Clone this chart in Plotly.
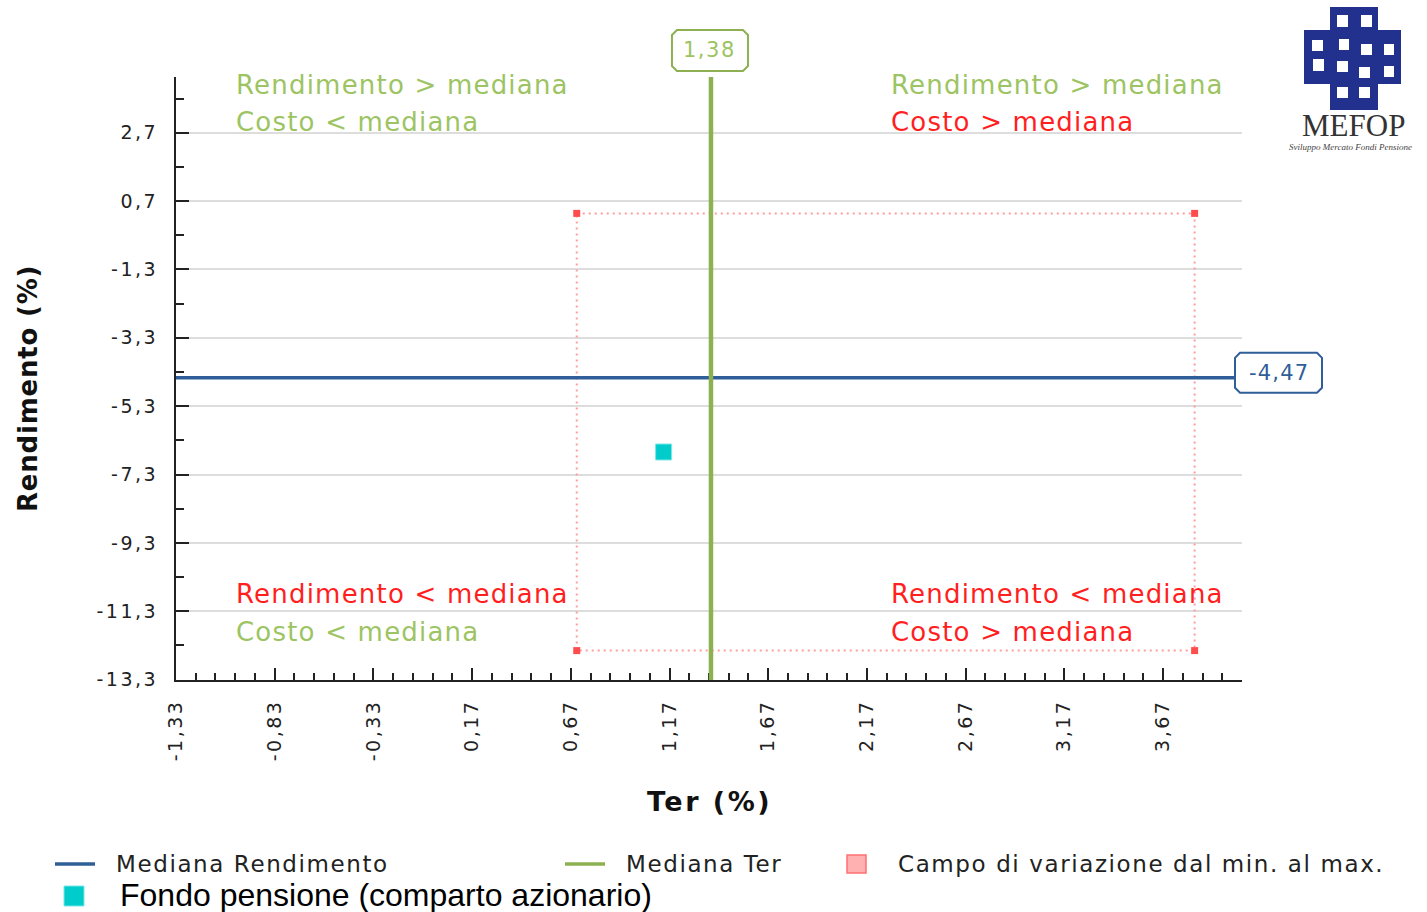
import plotly.graph_objects as go

# ---------------- data ----------------
ter_ticks = [-1.33, -0.83, -0.33, 0.17, 0.67, 1.17, 1.67, 2.17, 2.67, 3.17, 3.67]
rend_ticks = [2.7, 0.7, -1.3, -3.3, -5.3, -7.3, -9.3, -11.3, -13.3]
ter_median = 1.38
rend_median = -4.47
ter_range = [0.70, 3.83]        # min, max Ter
rend_range = [-12.45, 0.34]     # min, max Rendimento
fund_ter = [1.14]
fund_rend = [-6.64]
fund_name = "Fondo pensione (comparto azionario)"
legend_labels = ["Mediana Rendimento", "Mediana Ter", "Campo di variazione dal min. al max.", fund_name]
quadrant_labels = [
    ["Rendimento &gt; mediana", "Costo &lt; mediana"],   # top-left
    ["Rendimento &gt; mediana", "Costo &gt; mediana"],   # top-right
    ["Rendimento &lt; mediana", "Costo &lt; mediana"],   # bottom-left
    ["Rendimento &lt; mediana", "Costo &gt; mediana"],   # bottom-right
]

# ---------------- style ----------------
GREEN_TXT = "#9cc463"
GREEN_LINE = "#8db152"
RED_TXT = "#ff1f1f"
BLUE = "#2f5e98"
PINK = "#ff9c9c"
CORNER = "#ff4d4d"
CYAN = "#00cccc"
AX = "#222222"
FONT = "DejaVu Sans"

W, H = 1427, 912
L, R, T, B = 176, 1242, 77, 680


def pxx(x):
    return (x - L) / (R - L)


def pxy(y):
    return (B - y) / (B - T)


def sp(text, s):
    return f'<span style="letter-spacing:{s}px">{text}</span>'


def fmt(v, d):
    return f"{v:.{d}f}".replace(".", ",")


fig = go.Figure()

# range rectangle (dotted)
fig.add_trace(go.Scatter(
    x=[ter_range[0], ter_range[1], ter_range[1], ter_range[0], ter_range[0]],
    y=[rend_range[1], rend_range[1], rend_range[0], rend_range[0], rend_range[1]],
    mode="lines", line=dict(color=PINK, width=2, dash="2px,4px"),
    hoverinfo="skip", showlegend=False))
fig.add_trace(go.Scatter(
    x=[ter_range[0], ter_range[1], ter_range[1], ter_range[0]],
    y=[rend_range[1], rend_range[1], rend_range[0], rend_range[0]],
    mode="markers", marker=dict(symbol="square", size=7, color=CORNER),
    hoverinfo="skip", showlegend=False))

# fund point
fig.add_trace(go.Scatter(
    x=fund_ter, y=fund_rend, mode="markers", name=fund_name,
    marker=dict(symbol="square", size=16, color=CYAN, line=dict(color="#7fe6e6", width=1)),
    showlegend=False))

shapes = []
# median lines
shapes.append(dict(type="line", xref="paper", yref="y", x0=0, x1=1, y0=rend_median, y1=rend_median,
                   line=dict(color=BLUE, width=3.5)))
shapes.append(dict(type="line", xref="x", yref="paper", x0=ter_median, x1=ter_median, y0=0, y1=1,
                   line=dict(color=GREEN_LINE, width=4.5)))


def octagon(x0, x1, y0, y1, c=5):
    return (f"M {x0 + c},{y0} L {x1 - c},{y0} L {x1},{y0 + c} L {x1},{y1 - c} "
            f"L {x1 - c},{y1} L {x0 + c},{y1} L {x0},{y1 - c} L {x0},{y0 + c} Z")


# label box for ter median (above plot)
shapes.append(dict(type="path", xref="x", yref="paper", xsizemode="pixel", ysizemode="pixel",
                   xanchor=ter_median, yanchor=1, path=octagon(-39, 37, 6, 47),
                   fillcolor="white", line=dict(color=GREEN_LINE, width=2)))
# label box for rendimento median (right)
shapes.append(dict(type="path", xref="paper", yref="y", xsizemode="pixel", ysizemode="pixel",
                   xanchor=1, yanchor=rend_median, path=octagon(-7, 80, -15, 25),
                   fillcolor="white", line=dict(color=BLUE, width=2)))

annotations = []
annotations.append(dict(x=ter_median, xref="x", y=1, yref="paper", yshift=27, xshift=-1, showarrow=False,
                        text=sp(fmt(ter_median, 2), 1.5), font=dict(family=FONT, size=21, color=GREEN_TXT),
                        xanchor="center", yanchor="middle"))
annotations.append(dict(x=1, xref="paper", xshift=37, y=rend_median, yref="y", yshift=5, showarrow=False,
                        text=sp(fmt(rend_median, 2), 1.2), font=dict(family=FONT, size=21, color=BLUE),
                        xanchor="center", yanchor="middle"))

# quadrant labels
q_pos = [(234, 85, 122), (889, 85, 122), (234, 594, 632), (889, 594, 632)]
q_col = [(GREEN_TXT, GREEN_TXT), (GREEN_TXT, RED_TXT), (RED_TXT, GREEN_TXT), (RED_TXT, RED_TXT)]
for (x, y1, y2), (c1, c2), (t1, t2) in zip(q_pos, q_col, quadrant_labels):
    for yy, cc, tt in ((y1, c1, t1), (y2, c2, t2)):
        annotations.append(dict(x=pxx(x), y=pxy(yy), xref="paper", yref="paper", showarrow=False,
                                xanchor="left", yanchor="middle", text=sp(tt, 1.2),
                                font=dict(family=FONT, size=26, color=cc)))

# axis titles
annotations.append(dict(x=pxx(709), y=pxy(801), xref="paper", yref="paper", showarrow=False,
                        text=sp("<b>Ter (%)</b>", 2.5), font=dict(family=FONT, size=27, color="#111"),
                        xanchor="center", yanchor="middle"))
annotations.append(dict(x=pxx(28), y=pxy(389), xref="paper", yref="paper", showarrow=False,
                        text=sp("<b>Rendimento (%)</b>", 0.8), textangle=-90,
                        font=dict(family=FONT, size=26, color="#111"),
                        xanchor="center", yanchor="middle"))

# manual legend
shapes.append(dict(type="line", xref="paper", yref="paper", x0=pxx(55), x1=pxx(95), y0=pxy(864), y1=pxy(864),
                   line=dict(color=BLUE, width=3.5)))
shapes.append(dict(type="line", xref="paper", yref="paper", x0=pxx(565), x1=pxx(605), y0=pxy(864), y1=pxy(864),
                   line=dict(color=GREEN_LINE, width=3.5)))
shapes.append(dict(type="rect", xref="paper", yref="paper", x0=pxx(847), x1=pxx(866), y0=pxy(855), y1=pxy(873),
                   fillcolor="#ffb0b0", line=dict(color="#ff7070", width=1.5)))
shapes.append(dict(type="rect", xref="paper", yref="paper", x0=pxx(64), x1=pxx(84), y0=pxy(886), y1=pxy(906),
                   fillcolor=CYAN, line=dict(color="#7fe6e6", width=1)))
for x, y, t in ((114, 864, legend_labels[0]), (624, 864, legend_labels[1]), (896, 864, legend_labels[2])):
    annotations.append(dict(x=pxx(x), y=pxy(y), xref="paper", yref="paper", showarrow=False,
                            xanchor="left", yanchor="middle", text=sp(t, 1.6),
                            font=dict(family=FONT, size=23, color="#222")))
annotations.append(dict(x=pxx(118), y=pxy(895), xref="paper", yref="paper", showarrow=False,
                        xanchor="left", yanchor="middle", text=legend_labels[3],
                        font=dict(family="Liberation Sans, Arial", size=32, color="#000")))

# logo (MEFOP)
NAVY = "#22318e"


def prect(x0, y0, x1, y1, color):
    return dict(type="rect", xref="paper", yref="paper", x0=pxx(x0), x1=pxx(x1), y0=pxy(y1), y1=pxy(y0),
                fillcolor=color, line=dict(width=0), layer="above")


shapes.append(prect(1330, 7, 1378, 110, NAVY))
shapes.append(prect(1304, 30, 1401, 84, NAVY))
for wx0, wy0, wx1, wy1 in [(1337, 15, 1348, 27), (1361, 15, 1372, 27), (1312, 40, 1323, 51),
                           (1339, 39, 1349, 50), (1361, 44, 1372, 55), (1384, 44, 1394, 55),
                           (1313, 59, 1324, 71), (1337, 61, 1348, 72), (1359, 67, 1370, 78),
                           (1384, 66, 1394, 77), (1337, 87, 1348, 98), (1359, 87, 1370, 98)]:
    shapes.append(prect(wx0, wy0, wx1, wy1, "white"))
annotations.append(dict(x=pxx(1353), y=pxy(126), xref="paper", yref="paper", showarrow=False,
                        text="MEFOP", font=dict(family="Liberation Serif", size=31, color="#333"),
                        xanchor="center", yanchor="middle"))
annotations.append(dict(x=pxx(1350), y=pxy(147), xref="paper", yref="paper", showarrow=False,
                        text="<i>Sviluppo Mercato Fondi Pensione</i>",
                        font=dict(family="Liberation Serif", size=9, color="#444"),
                        xanchor="center", yanchor="middle"))

fig.update_layout(
    template="none",
    width=W, height=H,
    margin=dict(l=L, r=W - R, t=T, b=H - B, pad=0),
    paper_bgcolor="white", plot_bgcolor="white",
    showlegend=False,
    font=dict(family=FONT, color=AX),
    shapes=shapes, annotations=annotations,
    xaxis=dict(
        range=[-1.33, 4.07], tickmode="array", tickvals=ter_ticks,
        ticktext=[sp(fmt(v, 2), 2.5) for v in ter_ticks],
        tickangle=-90, ticks="inside", ticklen=12, tickwidth=2, tickcolor=AX,
        showline=True, linecolor=AX, linewidth=2, showgrid=False, zeroline=False,
        tickfont=dict(family=FONT, size=19, color=AX), ticklabelstandoff=10, automargin=False,
        minor=dict(tickmode="linear", tick0=-1.33, dtick=0.1, ticks="inside", ticklen=7,
                   tickwidth=2, tickcolor=AX, showgrid=False),
    ),
    yaxis=dict(
        range=[-13.31, 4.33], tickmode="array", tickvals=rend_ticks,
        ticktext=[sp(fmt(v, 1), 2.5) for v in rend_ticks],
        ticks="inside", ticklen=13, tickwidth=2, tickcolor=AX,
        showline=True, linecolor=AX, linewidth=2, showgrid=True, gridcolor="#dddddd", gridwidth=1.5,
        zeroline=False, tickfont=dict(family=FONT, size=19, color=AX), ticklabelstandoff=12,
        automargin=False,
        minor=dict(tickmode="linear", tick0=-13.3, dtick=1, ticks="inside", ticklen=8,
                   tickwidth=2, tickcolor=AX, showgrid=False),
    ),
)

fig.write_html("out.html", config={"displayModeBar": False},
               post_script="document.body.style.margin='0';document.body.style.overflow='hidden';")
